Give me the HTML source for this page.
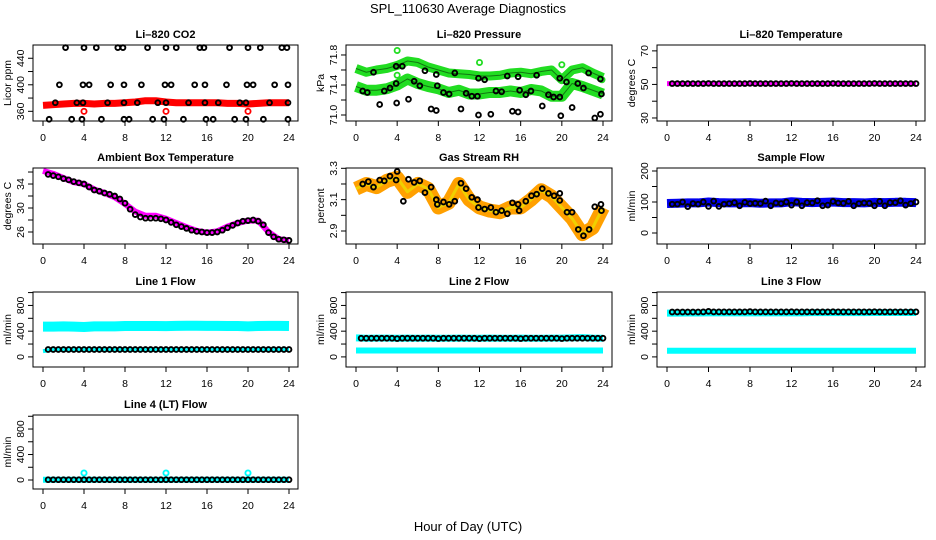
<!DOCTYPE html>
<html><head><meta charset="utf-8"><style>
html,body{margin:0;padding:0;background:#fff;}
svg{display:block;font-family:"Liberation Sans",Arial,sans-serif;}
</style></head><body>
<svg id="chart" width="936" height="540" viewBox="0 0 936 540" xmlns="http://www.w3.org/2000/svg">
<text x="468" y="13" text-anchor="middle" font-size="13">SPL_110630  Average Diagnostics</text>
<text x="468" y="531" text-anchor="middle" font-size="13">Hour of Day (UTC)</text>
</svg>
<script>
const hours=[0,1,2,3,4,5,6,7,8,9,10,11,12,13,14,15,16,17,18,19,20,21,22,23,24];
const halfHours=[0.5,1,1.5,2,2.5,3,3.5,4,4.5,5,5.5,6,6.5,7,7.5,8,8.5,9,9.5,10,10.5,11,11.5,12,12.5,13,13.5,14,14.5,15,15.5,16,16.5,17,17.5,18,18.5,19,19.5,20,20.5,21,21.5,22,22.5,23,23.5,24];
const xTicks=[0,4,8,12,16,20,24];

const co2Band=[369,370,371,372,372,371,372,372,373,374,376,376,374,373,373,373,373,373,372,372,371,372,373,373,373];
const co2BlackHours=[2.2,4,5.2,7.3,7.8,10.2,12,13,15.3,15.7,18.2,20,21.2,23.3,23.8,1.6,3.9,4.5,6.6,7.9,9.6,11.9,12.5,14.8,15.8,17.9,19.9,20.5,22.6,23.9,1.2,3.3,3.9,6.3,7.9,9.2,11.2,12,14.2,15.8,17.1,19.2,19.8,22.1,23.9,0.6,2.8,3.8,5.7,7.9,8.4,10.7,11.8,13.7,15.9,16.6,18.7,19.8,21.5,23.9];
const co2BlackVals=[456,456,456,456,456,456,456,456,456,456,456,456,456,456,456,400,400,400,400,400,400,400,400,400,400,400,400,400,400,400,373,373,373,373,373,373,373,373,373,373,373,373,373,373,373,348,348,348,348,348,348,348,348,348,348,348,348,348,348,348];
const co2OutHours=[4,12,20];
const co2OutVals=[360,360,360];

const pressUpper=[71.62,71.57,71.6,71.62,71.66,71.72,71.7,71.64,71.6,71.56,71.55,71.54,71.52,71.52,71.53,71.56,71.57,71.55,71.58,71.6,71.47,71.6,71.63,71.56,71.5];
const pressLower=[71.38,71.33,71.33,71.35,71.4,71.48,71.42,71.38,71.35,71.3,71.33,71.28,71.28,71.3,71.3,71.32,71.3,71.34,71.32,71.25,71.25,71.42,71.38,71.33,71.28];
const pressBlackHours=[0.65,1.1,1.7,2.3,2.75,3.3,3.9,3.9,3.95,4.5,5.1,5.65,6.2,6.7,7.3,7.8,7.8,7.9,8.5,9.05,9.6,10.2,10.7,11.25,11.8,11.9,11.9,12.5,13.1,13.6,14.15,14.7,15.2,15.75,15.75,15.9,16.5,17.0,17.55,18.1,18.7,19.2,19.8,19.8,19.9,20.45,21.0,21.55,22.1,22.6,23.2,23.75,23.75,23.85];
const pressBlackVals=[71.32,71.3,71.57,71.14,71.32,71.36,71.42,71.65,71.16,71.65,71.21,71.45,71.39,71.59,71.08,71.06,71.54,71.39,71.3,71.28,71.56,71.08,71.29,71.25,71.25,71.49,71.0,71.47,71.01,71.32,71.31,71.52,71.05,71.04,71.51,71.33,71.27,71.32,71.53,71.12,71.27,71.24,71.24,71.49,70.99,71.44,71.1,71.42,71.36,71.56,70.96,71.01,71.48,71.28];
const pressOutHours=[4,4,12,20,23.9];
const pressOutVals=[71.86,71.53,71.7,71.67,71.47];

const tempBand=[50.5,50.5,50.5,50.5,50.5,50.5,50.5,50.5,50.5,50.5,50.5,50.5,50.5,50.5,50.5,50.5,50.5,50.5,50.5,50.5,50.5,50.5,50.5,50.5,50.5];
const tempBlack=[50.5,50.5,50.5,50.5,50.5,50.5,50.5,50.6,50.5,50.5,50.5,50.5,50.5,50.5,50.5,50.6,50.5,50.5,50.5,50.5,50.5,50.5,50.5,50.6,50.5,50.5,50.5,50.5,50.5,50.5,50.5,50.6,50.5,50.5,50.5,50.5,50.5,50.5,50.5,50.6,50.5,50.5,50.5,50.5,50.5,50.5,50.5,50.5];

const ambBand=[36.2,35.7,35.0,34.3,34.0,33.1,32.5,31.8,30.7,29.4,28.7,28.7,28.2,27.5,26.8,26.2,25.9,26.1,26.9,27.5,27.9,27.9,26.0,24.8,24.6];
const ambBlack=[35.6,35.4,35.2,34.9,34.7,34.4,34.2,34.0,33.5,33.0,32.8,32.5,32.3,32.0,31.5,30.8,29.8,28.9,28.5,28.3,28.3,28.3,28.2,28.0,27.6,27.2,26.9,26.6,26.3,26.1,26.0,25.9,25.9,26.0,26.3,26.7,27.1,27.5,27.8,27.9,28.0,27.8,27.2,25.9,25.2,24.8,24.7,24.6];

const rhBand=[3.17,3.2,3.18,3.22,3.24,3.15,3.2,3.17,3.05,3.08,3.2,3.1,3.05,3.03,3.02,3.05,3.05,3.1,3.16,3.12,3.05,2.98,2.88,2.92,3.05];
const rhBlackHours=[0.65,1.2,1.7,2.3,2.75,3.3,3.9,4.0,4.6,5.1,5.65,6.2,6.7,7.3,7.8,7.9,8.5,9.05,9.6,10.2,10.7,11.25,11.8,11.9,12.5,13.1,13.6,14.15,14.7,15.2,15.75,15.85,16.5,17.05,17.55,18.1,18.7,19.25,19.8,19.8,20.5,21.0,21.6,22.1,22.65,23.2,23.8,23.85];
const rhBlackVals=[3.2,3.215,3.18,3.225,3.22,3.25,3.225,3.28,3.09,3.23,3.21,3.22,3.145,3.18,3.1,3.07,3.085,3.07,3.09,3.205,3.17,3.115,3.1,3.05,3.04,3.05,3.02,3.03,3.01,3.08,3.07,3.03,3.09,3.125,3.135,3.17,3.14,3.125,3.14,3.095,3.02,3.02,2.91,2.87,2.91,3.055,3.07,3.03];

const flowBand=[95,96,97,97,100,98,97,97,98,96,97,97,101,99,98,99,100,98,98,97,99,98,99,99,98];
const flowBlack=[93,93,100,85,95,93,100,86,103,86,93,95,98,88,99,95,96,95,103,88,97,95,100,90,100,88,98,97,104,88,90,102,97,96,102,88,95,97,96,88,102,88,98,98,104,90,95,100];

const line1Upper=[470,470,475,470,465,475,475,475,480,480,480,480,478,482,485,485,482,482,480,480,475,480,482,482,480];
const line1Lower=[90,110,110,110,110,110,110,110,110,110,110,110,110,110,110,110,110,110,110,110,110,110,110,110,110];
const line1Black=[115,115,115,115,115,115,115,115,115,115,115,115,115,115,115,115,115,115,115,115,115,115,115,115,115,115,115,115,115,115,115,115,115,115,115,115,115,115,115,115,115,115,115,115,115,115,115,115];
const line2Upper=[295,290,292,292,290,292,290,292,290,290,292,290,290,292,290,290,292,290,290,292,292,295,300,292,290];
const line2Lower=[100,100,100,100,100,100,100,100,100,100,100,100,100,100,100,100,100,100,100,100,100,100,100,100,100];
const line2Black=[290,290,290,290,290,290,290,285,290,290,290,290,290,290,290,285,290,290,290,290,290,290,290,285,290,290,290,290,290,290,290,285,290,290,290,290,290,290,290,285,290,290,290,290,290,290,290,290];
const line3Upper=[680,680,682,682,685,685,685,685,685,685,685,685,685,685,688,688,688,688,688,688,690,690,690,690,690];
const line3Lower=[95,95,95,95,95,95,95,95,95,95,95,95,95,95,95,95,95,95,95,95,95,95,95,95,95];
const line3Black=[698,698,698,698,698,698,700,708,700,700,700,700,700,700,700,705,700,700,700,700,700,700,700,702,700,700,700,700,700,700,700,702,700,700,700,700,700,700,700,702,700,700,700,700,700,700,700,700];
const line4Band=[5,5,5,5,5,5,5,5,5,5,5,5,5,5,5,5,5,5,5,5,5,5,5,5,5];
const line4Black=[5,5,5,5,5,5,5,5,5,5,5,5,5,5,5,5,5,5,5,5,5,5,5,5,5,5,5,5,5,5,5,5,5,5,5,5,5,5,5,5,5,5,5,5,5,5,5,5];
const line4OutHours=[4,12,20];
const line4OutVals=[110,110,110];

const NS='http://www.w3.org/2000/svg';
const svg=document.getElementById('chart');
const colX0=[33,346,657], colX1=[298,612,925];
const rowY0=[45,168,292,415], rowY1=[121,244,367,489];

function mk(tag,attrs,parent){const e=document.createElementNS(NS,tag);for(const k in attrs)e.setAttribute(k,attrs[k]);(parent||svg).appendChild(e);return e;}

function panel(key,col,row,title,ylab,ymin,ymax,ticks,labels){
  const x0=colX0[col],x1=colX1[col],y0=rowY0[row],y1=rowY1[row];
  const g=mk('g',{});
  
  
  const x=h=>x0+10+h*(x1-x0-19)/24;
  const y=v=>y1-(v-ymin)/(ymax-ymin)*(y1-y0);
  const t=mk('text',{x:(x0+x1)/2,y:y0-7,'text-anchor':'middle','font-size':'11','font-weight':'bold'},g);
  t.textContent=title;
  
  
  const yl=mk('text',{x:0,y:0,'text-anchor':'middle','font-size':'10.5',transform:`translate(${x0-22},${(y0+y1)/2}) rotate(-90)`},g);
  yl.textContent=ylab;
  
  
  const xa=mk('g',{},g);
  
  
  mk('line',{x1:x(xTicks[0]),x2:x(xTicks[xTicks.length-1]),y1:y1,y2:y1,stroke:'#000','stroke-width':1},xa);
  xTicks.forEach(v=>{
    mk('line',{x1:x(v),x2:x(v),y1:y1,y2:y1+5,stroke:'#000','stroke-width':1},xa);
    const lt=mk('text',{x:x(v),y:y1+20,'text-anchor':'middle','font-size':'10.5'},xa);
    lt.textContent=v;
  });
  const ya=mk('g',{},g);
  
  
  mk('line',{x1:x0,x2:x0,y1:y(ticks[0]),y2:y(ticks[ticks.length-1]),stroke:'#000','stroke-width':1},ya);
  ticks.forEach(v=>{mk('line',{x1:x0-5,x2:x0,y1:y(v),y2:y(v),stroke:'#000','stroke-width':1},ya);});
  labels.forEach(v=>{
    const lt=mk('text',{x:0,y:0,'text-anchor':'middle','font-size':'10.5',transform:`translate(${x0-9},${y(v)}) rotate(-90)`},ya);
    lt.textContent=v;
  });
  const data=mk('g',{},g);
  mk('rect',{x:x0,y:y0,width:x1-x0,height:y1-y0,fill:'none',stroke:'#000','stroke-width':1},g);
  return {x,y,g:data,key};
}
function band(p,name,xs,vs,color,w){
  const pl=mk('polyline',{points:xs.map((h,i)=>p.x(h)+','+p.y(vs[i])).join(' '),fill:'none',stroke:color,'stroke-width':w,'stroke-linejoin':'round','stroke-linecap':'butt'},p.g);
  
  
}
function pts(p,name,xs,vs,color,r,sw){
  const gg=mk('g',{},p.g);
  
  
  xs.forEach((h,i)=>{mk('circle',{cx:p.x(h),cy:p.y(vs[i]),r:r||2.4,fill:'none',stroke:color,'stroke-width':sw||1.9},gg);});
}

let p;
p=panel('co2',0,0,'Li\u2013820 CO2','Licor ppm',345.4,460,[360,380,400,420,440],[360,400,440]);
band(p,'minute-band',hours,co2Band,'#ff0000',7);
pts(p,'outliers',co2OutHours,co2OutVals,'#ff0000',2.6,1.8);
pts(p,'half-hour-means',co2BlackHours,co2BlackVals,'#000');

p=panel('pressure',1,0,'Li\u2013820 Pressure','kPa',70.92,71.933,[71.0,71.2,71.4,71.6,71.8],['71.0','71.4','71.8']);
band(p,'upper-band',hours,pressUpper,'#22dd22',9);
band(p,'lower-band',hours,pressLower,'#22dd22',11);
band(p,'upper-band-texture',hours,pressUpper,'#117711',1);
band(p,'lower-band-texture',hours,pressLower,'#117711',1);
pts(p,'outliers',pressOutHours,pressOutVals,'#22dd22',2.6,1.8);
pts(p,'half-hour-means',pressBlackHours,pressBlackVals,'#000');

p=panel('temperature',2,0,'Li\u2013820 Temperature','degrees C',28.2,73.5,[30,40,50,60,70],[30,50,70]);
band(p,'minute-band',hours,tempBand,'#ff00ff',5);
pts(p,'half-hour-means',halfHours,tempBlack,'#000');

p=panel('ambient',0,1,'Ambient Box Temperature','degrees C',24,36.67,[26,28,30,32,34,36],[26,30,34]);
band(p,'minute-band',hours,ambBand,'#ff00ff',6);
pts(p,'half-hour-means',halfHours,ambBlack,'#000');

p=panel('rh',1,1,'Gas Stream RH','percent',2.817,3.302,[2.9,3.0,3.1,3.2,3.3],['2.9','3.1','3.3']);
band(p,'minute-band',hours,rhBand,'#ffa000',14);
band(p,'minute-band-core',hours,rhBand,'#f0d000',3);
pts(p,'half-hour-means',rhBlackHours,rhBlackVals,'#000');

p=panel('sample-flow',2,1,'Sample Flow','ml/min',-35.5,209.7,[0,50,100,150,200],[0,100,200]);
band(p,'minute-band',hours,flowBand,'#0000ee',9);
pts(p,'half-hour-means',halfHours,flowBlack,'#000');

const fT=[0,200,400,600,800,1000], fL=[0,400,800];
p=panel('line1',0,2,'Line 1 Flow','ml/min',-157,1009,fT,fL);
band(p,'upper-band',hours,line1Upper,'#00ffff',10);
band(p,'lower-band',hours,line1Lower,'#00ffff',4);
pts(p,'half-hour-means',halfHours,line1Black,'#000');

p=panel('line2',1,2,'Line 2 Flow','ml/min',-157,1009,fT,fL);
band(p,'upper-band',hours,line2Upper,'#00ffff',7);
band(p,'lower-band',hours,line2Lower,'#00ffff',6);
pts(p,'half-hour-means',halfHours,line2Black,'#000');

p=panel('line3',2,2,'Line 3 Flow','ml/min',-157,1009,fT,fL);
band(p,'upper-band',hours,line3Upper,'#00ffff',7);
band(p,'lower-band',hours,line3Lower,'#00ffff',6);
pts(p,'half-hour-means',halfHours,line3Black,'#000');

p=panel('line4',0,3,'Line 4 (LT) Flow','ml/min',-141,1020,fT,fL);
band(p,'minute-band',hours,line4Band,'#00ffff',6);
pts(p,'outliers',line4OutHours,line4OutVals,'#00ffff',2.6,1.9);
pts(p,'half-hour-means',halfHours,line4Black,'#000');
</script>
</body></html>
